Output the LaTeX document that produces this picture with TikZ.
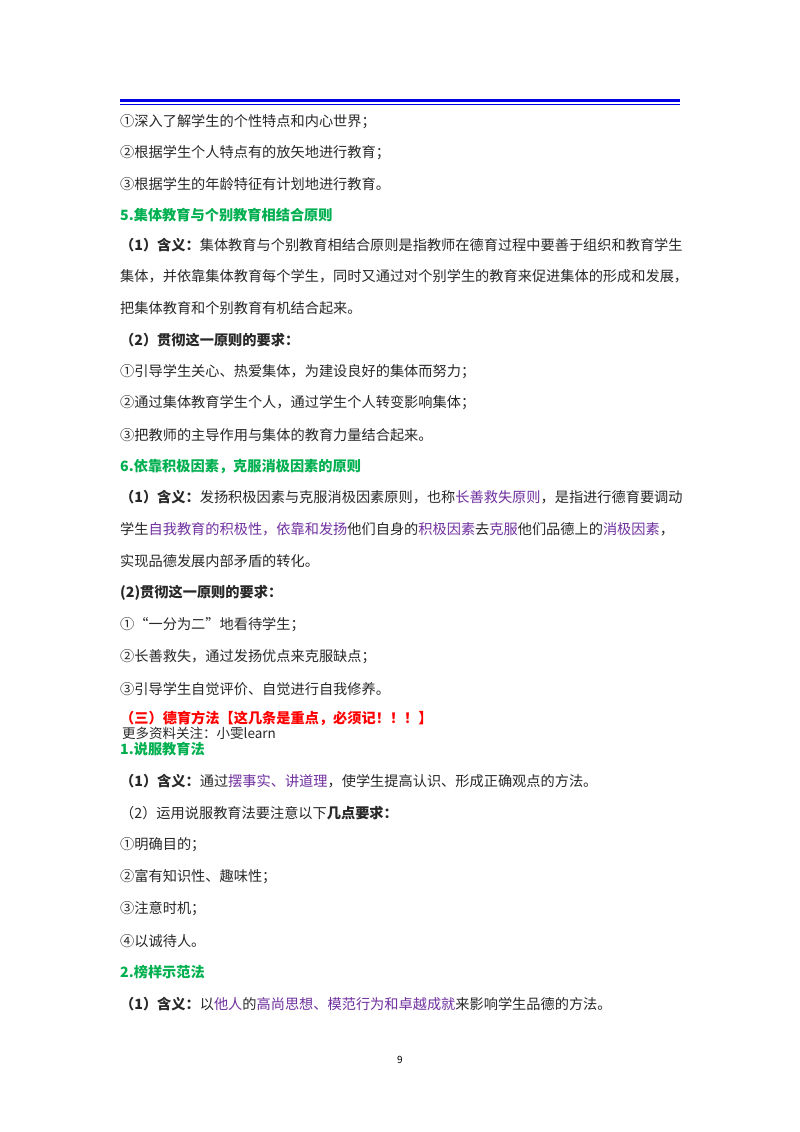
\documentclass[tikz,border=0pt]{standalone}
\usepackage{fontspec}
\setmainfont{Noto Sans CJK SC}
\definecolor{hgreen}{RGB}{0,176,80}
\definecolor{hpurp}{RGB}{112,48,160}
\definecolor{hred}{RGB}{255,0,0}
\definecolor{tx}{RGB}{40,40,40}
\newcommand{\pp}[1]{\textcolor{hpurp}{#1}}
\begin{document}
\begin{tikzpicture}[x=1pt,y=-1pt,
  ln/.style={anchor=west,inner sep=0pt,font=\fontsize{14.2}{16}\selectfont,text=tx},
  hd/.style={ln,text=hgreen},
  note/.style={ln,font=\fontsize{13.5}{15}\selectfont}]
\useasboundingbox (0,0) rectangle (800,1132);
\fill[white] (0,0) rectangle (800,1132);
\draw[blue!90!black,line width=2.6pt] (120,100.3) -- (680,100.3);
\draw[blue!90!black,line width=0.9pt] (120,104.2) -- (680,104.2);
\node[ln] (a1) at (120,122) {①深入了解学生的个性特点和内心世界；};
\node[ln] (a2) at (120,153) {②根据学生个人特点有的放矢地进行教育；};
\node[ln] (a3) at (120,184) {③根据学生的年龄特征有计划地进行教育。};
\node[hd] (h5) at (120,215) {\textbf{5.集体教育与个别教育相结合原则}};
\node[ln] (b1) at (120,245) {\textbf{（1）含义：}集体教育与个别教育相结合原则是指教师在德育过程中要善于组织和教育学生};
\node[ln] (b2) at (120,276) {集体，并依靠集体教育每个学生，同时又通过对个别学生的教育来促进集体的形成和发展，};
\node[ln] (b3) at (120,308) {把集体教育和个别教育有机结合起来。};
\node[ln] (b4) at (120,340) {\textbf{（2）贯彻这一原则的要求：}};
\node[ln] (b5) at (120,372) {①引导学生关心、热爱集体，为建设良好的集体而努力；};
\node[ln] (b6) at (120,403) {②通过集体教育学生个人，通过学生个人转变影响集体；};
\node[ln] (b7) at (120,435) {③把教师的主导作用与集体的教育力量结合起来。};
\node[hd] (h6) at (120,466) {\textbf{6.依靠积极因素，克服消极因素的原则}};
\node[ln] (c1) at (120,497) {\textbf{（1）含义：}发扬积极因素与克服消极因素原则，也称\pp{长善救失原则}，是指进行德育要调动};
\node[ln] (c2) at (120,529) {学生\pp{自我教育的积极性，依靠和发扬}他们自身的\pp{积极因素}去\pp{克服}他们品德上的\pp{消极因素}，};
\node[ln] (c3) at (120,561) {实现品德发展内部矛盾的转化。};
\node[ln] (c4) at (120,593) {\textbf{(2)贯彻这一原则的要求：}};
\node[ln] (c5) at (120,625) {①“一分为二”地看待学生；};
\node[ln] (c6) at (120,657) {②长善救失，通过发扬优点来克服缺点；};
\node[ln] (c7) at (120,689) {③引导学生自觉评价、自觉进行自我修养。};
\node[ln,text=hred] (h3) at (120,718) {\textbf{（三）德育方法【这几条是重点，必须记！！！】}};
\node[note] (nt) at (122,733) {更多资料关注：小雯learn};
\node[hd] (h1) at (120,749) {\textbf{1.说服教育法}};
\node[ln] (d1) at (120,781) {\textbf{（1）含义：}通过\pp{摆事实、讲道理}，使学生提高认识、形成正确观点的方法。};
\node[ln] (d2) at (120,813) {（2）运用说服教育法要注意以下\textbf{几点要求：}};
\node[ln] (d3) at (120,845) {①明确目的；};
\node[ln] (d4) at (120,877) {②富有知识性、趣味性；};
\node[ln] (d5) at (120,909) {③注意时机；};
\node[ln] (d6) at (120,941) {④以诚待人。};
\node[hd] (h2) at (120,972) {\textbf{2.榜样示范法}};
\node[ln] (e1) at (120,1004) {\textbf{（1）含义：}以\pp{他人}的\pp{高尚思想、模范行为和卓越成就}来影响学生品德的方法。};
\node[inner sep=0pt,font=\fontsize{10}{12}\selectfont] (pg) at (400,1060) {9};
\end{tikzpicture}
\end{document}
